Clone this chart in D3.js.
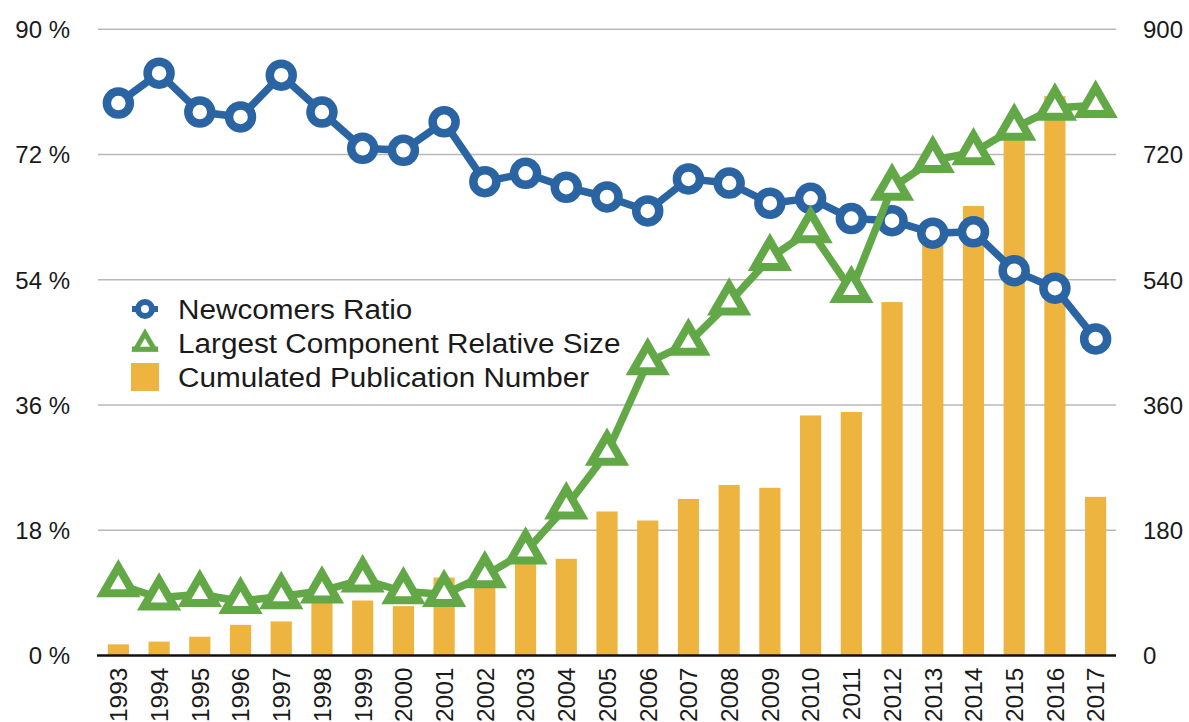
<!DOCTYPE html>
<html>
<head>
<meta charset="utf-8">
<script src="https://cdn.jsdelivr.net/npm/d3@7"></script>
<style>
  html, body { margin: 0; padding: 0; background: #fff; }
  svg { display: block; }
  text { font-family: "Liberation Sans", Arial, Helvetica, sans-serif; fill: #1a1a1a; }
</style>
</head>
<body>
<svg id="chart" width="1189" height="722"></svg>
<script>
const years = ["1993","1994","1995","1996","1997","1998","1999","2000","2001","2002","2003","2004","2005","2006","2007","2008","2009","2010","2011","2012","2013","2014","2015","2016","2017"];
const newcomersRatio = [79.4, 83.7, 78.1, 77.4, 83.4, 78.1, 72.9, 72.6, 76.7, 68.1, 69.3, 67.3, 65.9, 63.9, 68.5, 67.9, 65.0, 65.7, 62.8, 62.5, 60.7, 60.9, 55.3, 52.8, 45.5];
const largestComponent = [10.2, 8.3, 8.8, 7.8, 8.5, 9.3, 10.9, 9.2, 8.8, 11.5, 14.9, 21.4, 29.1, 42.1, 44.9, 50.7, 57.1, 61.1, 52.5, 67.2, 71.2, 72.3, 75.8, 78.7, 79.1];
const publications = [16, 20, 27, 44, 49, 76, 79, 71, 112, 126, 132, 139, 207, 194, 225, 245, 241, 345, 350, 508, 600, 646, 742, 804, 228];
const leftTicks = [0, 18, 36, 54, 72, 90];
const rightTicks = [0, 180, 360, 540, 720, 900];
const legendLabels = ["Newcomers Ratio", "Largest Component Relative Size", "Cumulated Publication Number"];

const BLUE = "#2a64a3", GREEN = "#63a846", ORANGE = "#edb43f";

const svg = d3.select("#chart");
const plotLeft = 98, plotRight = 1116, plotTop = 29.3, plotBottom = 655.5;

const x = d3.scaleBand().domain(years).range([plotLeft, plotRight]).paddingInner(0.48).paddingOuter(0.24);
const yL = d3.scaleLinear().domain([0, 90]).range([plotBottom, plotTop]);
const yR = d3.scaleLinear().domain([0, 900]).range([plotBottom, plotTop]);
const cx = d => x(d) + x.bandwidth() / 2;

// gridlines
svg.append("g").selectAll("line").data(leftTicks.filter(t => t > 0)).join("line")
  .attr("x1", plotLeft).attr("x2", plotRight)
  .attr("y1", d => yL(d)).attr("y2", d => yL(d))
  .attr("stroke", "#b8b8b8").attr("stroke-width", 1.6);

// left axis
const axL = svg.append("g").attr("transform", `translate(${plotLeft},0)`)
  .call(d3.axisLeft(yL).tickValues(leftTicks).tickSize(0).tickPadding(28).tickFormat(d => d + " %"));
axL.select(".domain").remove();
axL.selectAll("text").style("font-size", "24px").attr("font-family", null).attr("dy", "0.35em");

// right axis
const axR = svg.append("g").attr("transform", `translate(${plotRight},0)`)
  .call(d3.axisRight(yR).tickValues(rightTicks).tickSize(0).tickPadding(27));
axR.select(".domain").remove();
axR.selectAll("text").style("font-size", "24px").attr("font-family", null).attr("dy", "0.35em");

// bars
svg.append("g").selectAll("rect").data(publications).join("rect")
  .attr("x", (d, i) => x(years[i]))
  .attr("width", x.bandwidth())
  .attr("y", d => yR(d))
  .attr("height", d => yR(0) - yR(d))
  .attr("fill", ORANGE);

// baseline
svg.append("line").attr("x1", plotLeft - 1).attr("x2", plotRight).attr("y1", plotBottom).attr("y2", plotBottom)
  .attr("stroke", "#111").attr("stroke-width", 2.5);

// x axis labels
const axB = svg.append("g").attr("transform", `translate(0,${plotBottom})`)
  .call(d3.axisBottom(x).tickSize(0).tickPadding(0));
axB.select(".domain").remove();
axB.selectAll("text")
  .style("font-size", "24.5px").attr("font-family", null)
  .attr("text-anchor", "end")
  .attr("transform", "rotate(-90)")
  .attr("x", -12).attr("y", 0).attr("dy", "0.36em");

// blue line
const lineBlue = d3.line().x((d, i) => cx(years[i])).y(d => yL(d));
svg.append("path").datum(newcomersRatio).attr("d", lineBlue)
  .attr("fill", "none").attr("stroke", BLUE).attr("stroke-width", 7.5).attr("stroke-linejoin", "round");
svg.append("g").selectAll("circle").data(newcomersRatio).join("circle")
  .attr("cx", (d, i) => cx(years[i])).attr("cy", d => yL(d)).attr("r", 11.5)
  .attr("fill", "#fff").attr("stroke", BLUE).attr("stroke-width", 8.5);

// green line
const lineGreen = d3.line().x((d, i) => cx(years[i])).y(d => yL(d));
svg.append("path").datum(largestComponent).attr("d", lineGreen)
  .attr("fill", "none").attr("stroke", GREEN).attr("stroke-width", 7.5).attr("stroke-linejoin", "round");
const tri = d3.symbol().type(d3.symbolTriangle).size(400);
svg.append("g").selectAll("path").data(largestComponent).join("path")
  .attr("d", tri)
  .attr("transform", (d, i) => `translate(${cx(years[i])},${yL(d)})`)
  .attr("fill", "#fff").attr("stroke", GREEN).attr("stroke-width", 8).attr("stroke-linejoin", "miter");

// legend
const lg = svg.append("g");
const lx = 145, lys = [309, 343, 377];
lg.append("line").attr("x1", lx - 13).attr("x2", lx + 13).attr("y1", lys[0]).attr("y2", lys[0]).attr("stroke", BLUE).attr("stroke-width", 6);
lg.append("circle").attr("cx", lx).attr("cy", lys[0]).attr("r", 7).attr("fill", "#fff").attr("stroke", BLUE).attr("stroke-width", 6);
lg.append("line").attr("x1", lx - 13).attr("x2", lx + 13).attr("y1", lys[1] + 6).attr("y2", lys[1] + 6).attr("stroke", GREEN).attr("stroke-width", 5);
lg.append("path").attr("d", d3.symbol().type(d3.symbolTriangle).size(150))
  .attr("transform", `translate(${lx},${lys[1] + 1})`)
  .attr("fill", "#fff").attr("stroke", GREEN).attr("stroke-width", 5);
lg.append("rect").attr("x", lx - 14).attr("y", lys[2] - 14).attr("width", 28).attr("height", 28).attr("fill", ORANGE);
lg.selectAll("text").data(legendLabels).join("text")
  .attr("x", 178).attr("y", (d, i) => lys[i] + 9.5)
  .style("font-size", "27px")
  .text(d => d)
  .each(function() {
    const w = this.getComputedTextLength();
    d3.select(this).attr("textLength", w * 1.1).attr("lengthAdjust", "spacingAndGlyphs");
  });
</script>
</body>
</html>
